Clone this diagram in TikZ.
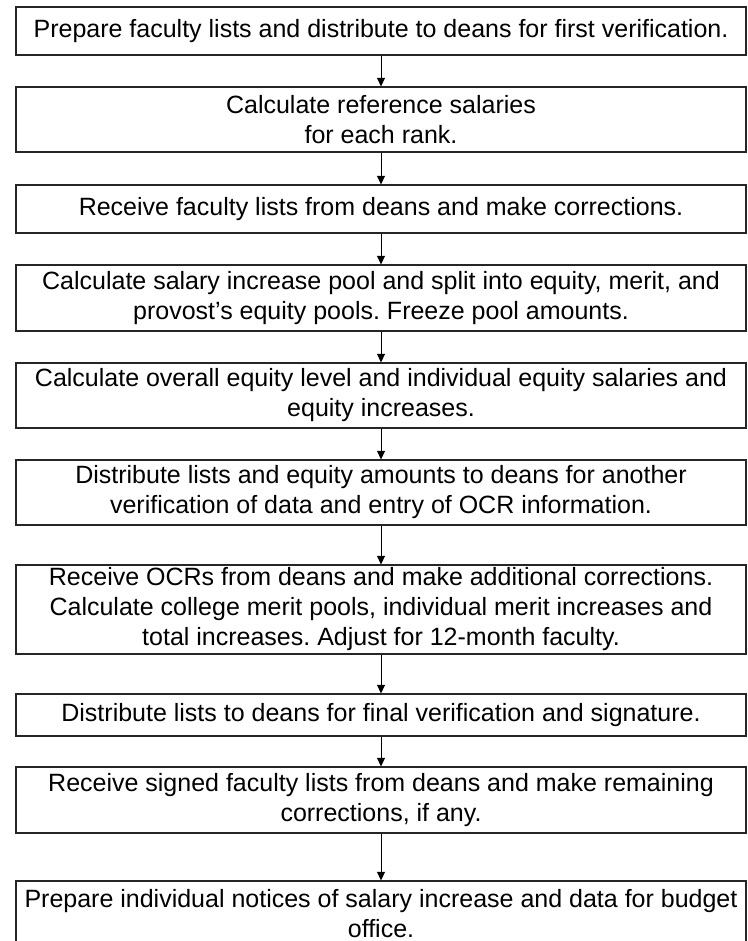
\documentclass[tikz,border=0pt]{standalone}
\usepackage{fontspec}
\setmainfont{Liberation Sans}
\usetikzlibrary{arrows.meta}
\frenchspacing
\begin{document}
\begin{tikzpicture}[x=1pt,y=1pt,
  stepbox/.style={draw=black!85, line width=1.2pt, minimum width=730pt, align=center,
    inner xsep=0pt, inner ysep=0pt, font=\fontsize{25}{30}\selectfont},
  flow/.style={draw=black, line width=0.9pt, -{Triangle[length=8.5pt,width=8pt]}}]
\useasboundingbox (0,0) rectangle (747,941);
\node[stepbox, minimum height=48pt] (b1) at (381,910) {Prepare faculty lists and distribute to deans for first verification.};
\node[stepbox, minimum height=65pt] (b2) at (381,821.5) {Calculate reference salaries\\for each rank.};
\node[stepbox, minimum height=48pt] (b3) at (381,732) {Receive faculty lists from deans and make corrections.};
\node[stepbox, minimum height=66pt] (b4) at (381,643) {Calculate salary increase pool and split into equity, merit, and\\provost’s equity pools. Freeze pool amounts.};
\node[stepbox, minimum height=65pt] (b5) at (381,545.5) {Calculate overall equity level and individual equity salaries and\\equity increases.};
\node[stepbox, minimum height=65pt] (b6) at (381,448.5) {Distribute lists and equity amounts to deans for another\\verification of data and entry of OCR information.};
\node[stepbox, minimum height=89pt] (b7) at (381,331.5) {Receive OCRs from deans and make additional corrections.\\Calculate college merit pools, individual merit increases and\\total increases. Adjust for 12-month faculty.};
\node[stepbox, minimum height=42pt] (b8) at (381,226) {Distribute lists to deans for final verification and signature.};
\node[stepbox, minimum height=66pt] (b9) at (381,141) {Receive signed faculty lists from deans and make remaining\\corrections, if any.};
\node[stepbox, minimum height=65pt] (b10) at (381,27.5) {Prepare individual notices of salary increase and data for budget\\office.};
\draw[flow] (b1.south) -- (b2.north);
\draw[flow] (b2.south) -- (b3.north);
\draw[flow] (b3.south) -- (b4.north);
\draw[flow] (b4.south) -- (b5.north);
\draw[flow] (b5.south) -- (b6.north);
\draw[flow] (b6.south) -- (b7.north);
\draw[flow] (b7.south) -- (b8.north);
\draw[flow] (b8.south) -- (b9.north);
\draw[flow] (b9.south) -- (b10.north);
\end{tikzpicture}
\end{document}
